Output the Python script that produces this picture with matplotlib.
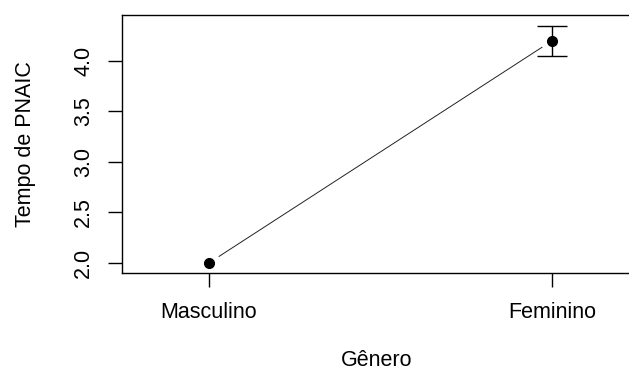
import numpy as np
import matplotlib.pyplot as plt

plt.rcParams['font.family'] = ['Liberation Sans', 'DejaVu Sans']

# group means of "Tempo de PNAIC" by gender, with error half-widths
grupos = ['Masculino', 'Feminino']
medias = [2.0, 4.2]
erros = [0.0, 0.15]
yticks = [2.0, 2.5, 3.0, 3.5, 4.0]

fs = 15.5

fig = plt.figure(figsize=(6.29, 3.70), dpi=100)
ax = fig.add_axes([122 / 629, 1 - 273 / 370, 510 / 629, 258 / 370])

x = np.arange(1, len(grupos) + 1)
ax.set_xlim(0.7464, 2.233)
ax.set_ylim(1.90, 4.455)

# connecting line with small gaps around each point (like R type="b")
fig.canvas.draw()
pts = ax.transData.transform(np.column_stack([x, medias]))
gap = 12
for i in range(len(x) - 1):
    p0, p1 = pts[i], pts[i + 1]
    d = p1 - p0
    u = d / np.hypot(*d)
    a = ax.transData.inverted().transform(p0 + u * gap)
    b = ax.transData.inverted().transform(p1 - u * gap)
    ax.plot([a[0], b[0]], [a[1], b[1]], color='#222222', lw=0.7)

ax.plot(x, medias, 'o', color='black', ms=7)
for xi, m, e in zip(x, medias, erros):
    if e > 0:
        ax.errorbar(xi, m, yerr=e, fmt='none', ecolor='black', elinewidth=1.0,
                    capsize=11, capthick=1.0)

ax.set_xticks(x)
ax.set_xticklabels(grupos)
ax.set_yticks(yticks)
ax.set_yticklabels([f'{v:.1f}' for v in yticks], rotation=90, va='center')
ax.tick_params(axis='both', length=10, width=1.0, labelsize=fs, colors='black')
ax.tick_params(axis='y', pad=10)
ax.tick_params(axis='x', pad=11)

for s in ax.spines.values():
    s.set_linewidth(1.0)

ax.set_xlabel('Gênero', fontsize=fs, labelpad=19)
ax.set_ylabel('Tempo de PNAIC', fontsize=fs, labelpad=27)

fig.savefig('out.png', dpi=100)
